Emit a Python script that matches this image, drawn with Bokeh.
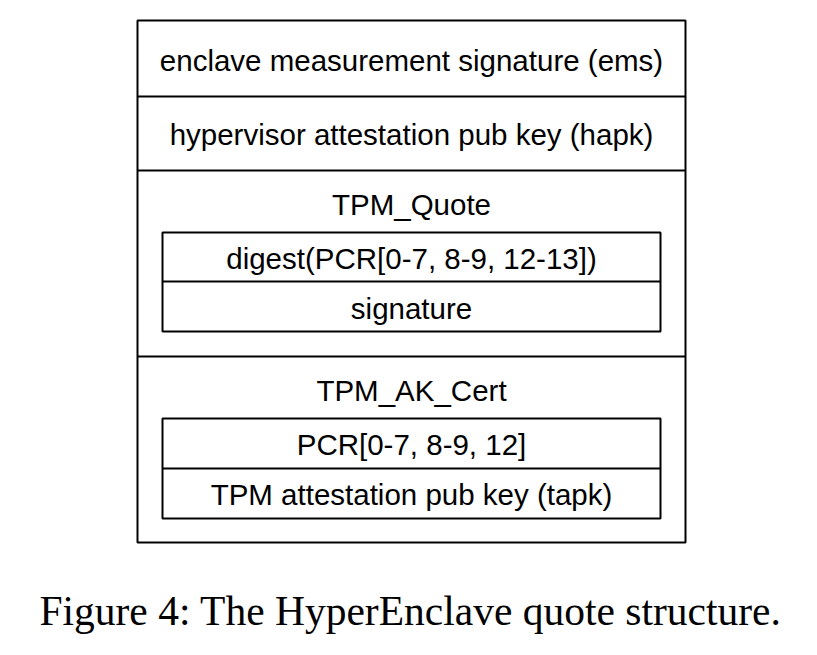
from bokeh.plotting import figure
from bokeh.models import Range1d
from bokeh.core.properties import value
from bokeh.embed import file_html
from bokeh.resources import INLINE

# boxes: left, right, top, bottom (page pixels)
box_left = [137, 162, 162]
box_right = [685, 660, 660]
box_top = [20, 232, 418]
box_bottom = [542, 331, 518]

# horizontal dividers
div_y = [96, 170, 356, 281, 468]
div_x0 = [137, 137, 137, 162, 162]
div_x1 = [685, 685, 685, 660, 660]

labels = ["enclave measurement signature (ems)",
          "hypervisor attestation pub key (hapk)",
          "TPM_Quote",
          "digest(PCR[0-7, 8-9, 12-13])",
          "signature",
          "TPM_AK_Cert",
          "PCR[0-7, 8-9, 12]",
          "TPM attestation pub key (tapk)"]
label_y = [60, 134, 204, 258, 308, 390, 444, 494]

caption = "Figure 4: The HyperEnclave quote structure."

p = figure(width=801, height=639, output_backend="svg", toolbar_location=None,
           x_range=Range1d(0, 801), y_range=Range1d(639, 0), min_border=0)
p.axis.visible = False
p.grid.visible = False
p.outline_line_color = None

p.quad(left=box_left, right=box_right, top=box_top, bottom=box_bottom,
       fill_color=None, line_color="black", line_width=2)
p.segment(x0=div_x0, x1=div_x1, y0=div_y, y1=div_y, line_color="black", line_width=2)

p.text(x=[411] * len(labels), y=label_y, text=labels, text_align="center",
       text_baseline="middle", text_font=value("Liberation Sans"),
       text_font_size="29.5px", text_color="black")

p.text(x=[410], y=[610], text=[caption], text_align="center", text_baseline="middle",
       text_font=value("Liberation Serif"), text_font_size="41.5px", text_color="black")

open("out.html", "w").write(file_html(p, INLINE))
